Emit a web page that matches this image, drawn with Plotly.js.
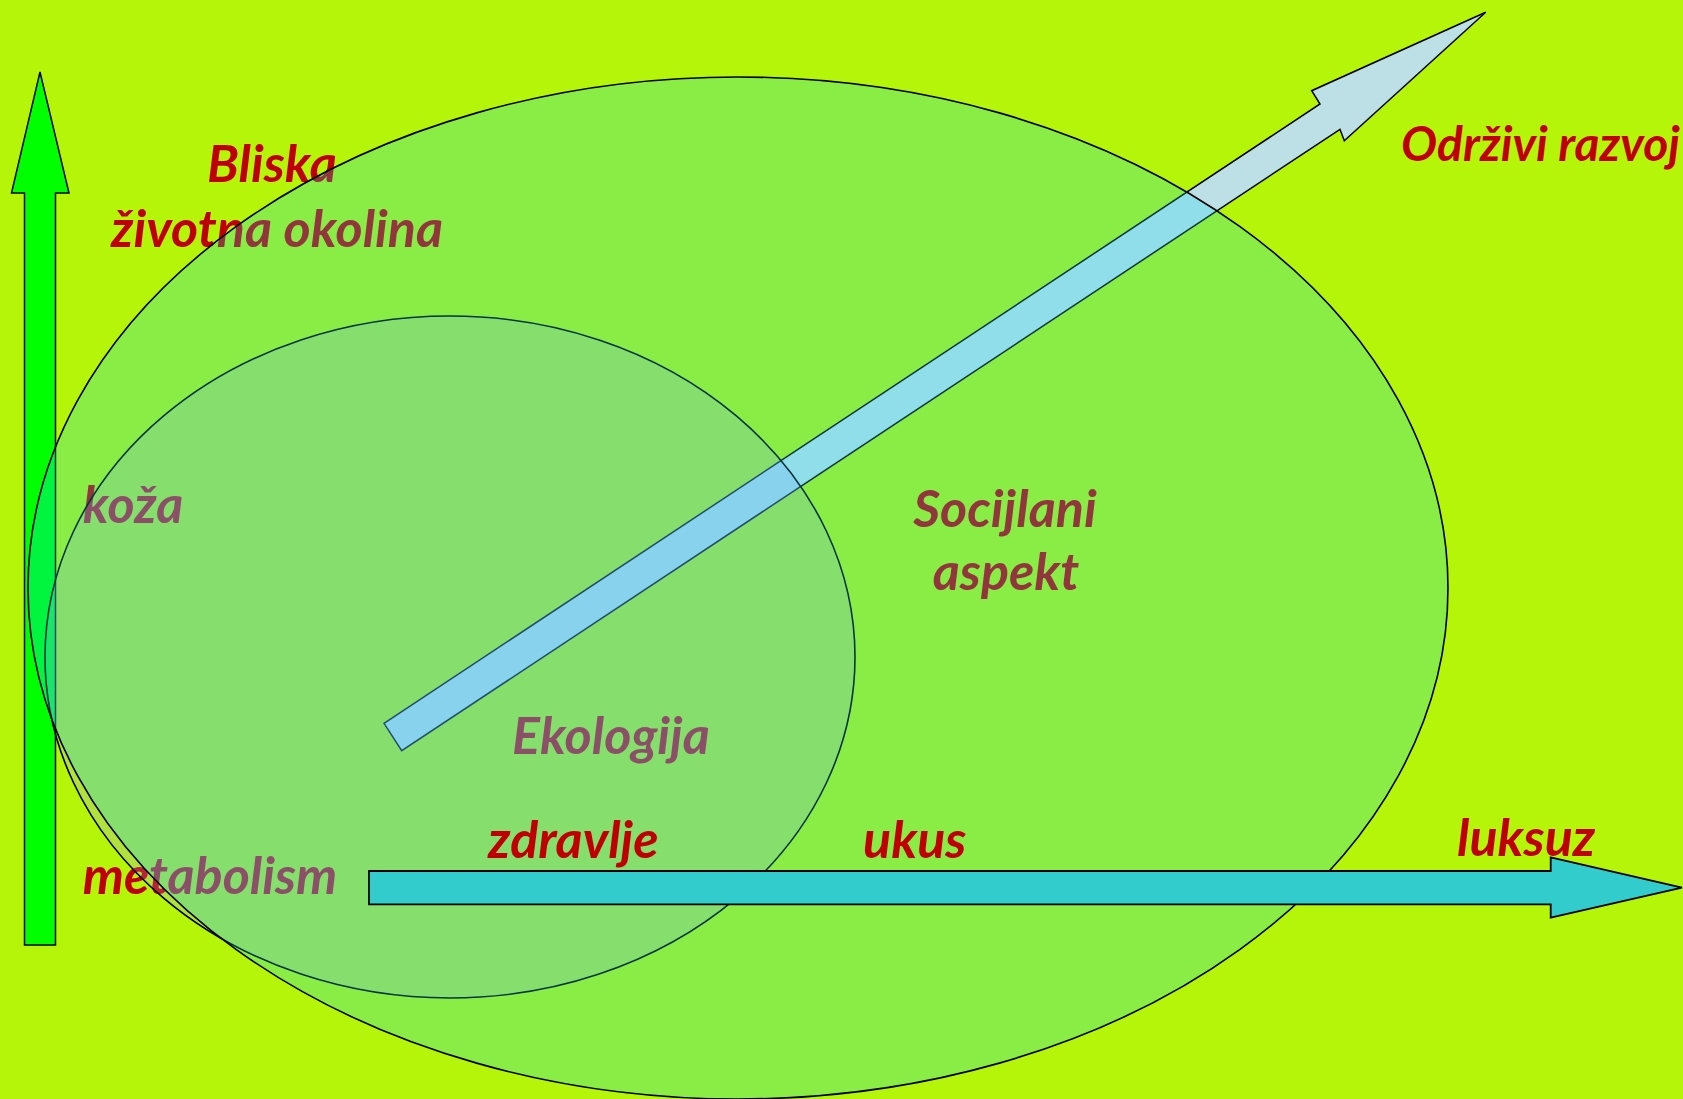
<!DOCTYPE html>
<html>
<head>
<meta charset="utf-8">
<script src="https://cdn.plot.ly/plotly-3.0.1.min.js"></script>
<style>html,body{margin:0;padding:0;background:#B5F50A;overflow:hidden}</style>
</head>
<body>
<div id="chart" style="width:1683px;height:1099px"></div>
<script>
// ---- labels drawn beneath the translucent ellipses (they get tinted) ----
const underLabels = ["Bliska", "životna okolina", "koža", "metabolism", "Ekologija", "Socijlani", "aspekt"];
const underX = [272, 277, 133, 210, 611, 1005, 1006];
const underY = [169, 234, 510, 881, 741, 514, 577];

// ---- labels drawn on top of everything ----
const topLabels = ["zdravlje", "ukus", "luksuz", "Održivi razvoj"];
const topX = [573, 914, 1526, 1682];
const topY = [838, 838, 836, 142];
const topAnchor = ["center", "center", "center", "right"];
const topSize = [52, 52, 52, 48];

// ---- diagram geometry ----
const bigEllipse = [738, 588, 710, 511];    // cx, cy, rx, ry
const smallEllipse = [450, 657, 405, 341];  // cx, cy, rx, ry
const greenArrowX = [24.5, 24.5, 11.5, 40, 69, 55.5, 55.5];
const greenArrowY = [945, 193, 193, 72, 193, 193, 945];
const blueArrowX = [384, 1320, 1311.7, 1485.7, 1344.3, 1340, 401.7];
const blueArrowY = [723.3, 104, 90.7, 12.3, 140.7, 129.3, 750.7];
const cyanArrowX = [369, 1550.7, 1550.7, 1682, 1550.7, 1550.7, 369];
const cyanArrowY = [871, 871, 857.3, 887.7, 917.7, 904.3, 904.3];

const W = 1683, H = 1099;
const RED = "#C00000";
const FONT = "Lato, 'Open Sans', sans-serif";
const FS = 52;

function poly(xs, ys) {
  return "M" + xs.map((x, i) => x + "," + ys[i]).join("L") + "Z";
}
function ell(e) {
  return {x0: e[0] - e[2], x1: e[0] + e[2], y0: e[1] - e[3], y1: e[1] + e[3]};
}

const shapes = [
  {type: "path", layer: "below", path: poly(greenArrowX, greenArrowY),
    fillcolor: "#00FF00", line: {color: "#000000", width: 1.5}},
  {type: "path", layer: "below", path: poly(blueArrowX, blueArrowY),
    fillcolor: "#BCE0E6", line: {color: "#000000", width: 1.5}},
  Object.assign({type: "circle", layer: "above",
    fillcolor: "rgba(160,156,255,0.22)", line: {color: "#000000", width: 1.6}}, ell(smallEllipse)),
  Object.assign({type: "circle", layer: "above",
    fillcolor: "rgba(9,217,246,0.25)", line: {color: "#000000", width: 1.6}}, ell(bigEllipse)),
  {type: "path", layer: "above", path: poly(cyanArrowX, cyanArrowY),
    fillcolor: "#33CCCC", line: {color: "#000000", width: 1.8}}
];
shapes.forEach(s => { s.xref = "x"; s.yref = "y"; });

const traces = [{
  type: "scatter", mode: "text", x: underX, y: underY, text: underLabels,
  textposition: "middle center", hoverinfo: "skip", cliponaxis: false,
  textfont: {family: FONT, size: FS, color: RED, weight: "bold", style: "italic"}
}];

const annotations = topLabels.map((t, i) => ({
  text: t, x: topX[i], y: topY[i], xref: "x", yref: "y", showarrow: false,
  xanchor: topAnchor[i], yanchor: "middle",
  font: {family: FONT, size: topSize[i], color: RED, weight: "bold", style: "italic"}
}));

const layout = {
  width: W, height: H,
  margin: {l: 0, r: 0, t: 0, b: 0, pad: 0},
  paper_bgcolor: "#B5F50A", plot_bgcolor: "#B5F50A",
  showlegend: false,
  xaxis: {range: [0, W], visible: false, fixedrange: true},
  yaxis: {range: [H, 0], visible: false, fixedrange: true},
  shapes: shapes,
  annotations: annotations
};

Plotly.newPlot("chart", traces, layout, {displayModeBar: false, staticPlot: true});
</script>
</body>
</html>
